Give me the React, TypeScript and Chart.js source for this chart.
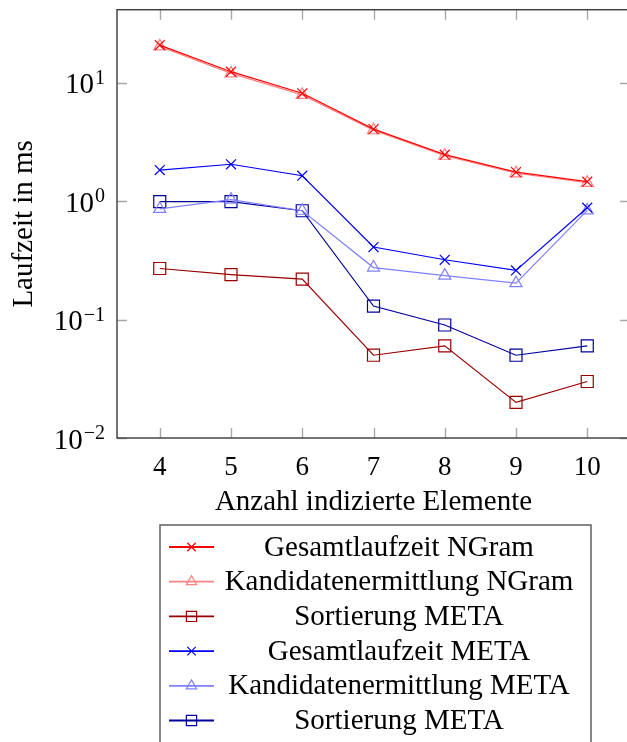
import React, { useEffect, useRef } from 'react';
import { Chart, registerables } from 'chart.js';
import { drawPoint } from 'chart.js/helpers';

Chart.register(...registerables);

// ---------- data ----------
const categories = [4, 5, 6, 7, 8, 9, 10];
const seriesLabels = [
  'Gesamtlaufzeit NGram',
  'Kandidatenermittlung NGram',
  'Sortierung META',
  'Gesamtlaufzeit META',
  'Kandidatenermittlung META',
  'Sortierung META',
];
const gesamtNGram = [20.8, 12.4, 8.15, 4.06, 2.47, 1.76, 1.46];
const kandNGram = [20.3, 12.0, 7.9, 3.97, 2.42, 1.72, 1.43];
const sortNGram = [0.27, 0.24, 0.22, 0.05, 0.06, 0.02, 0.03];
const gesamtMeta = [1.83, 2.05, 1.64, 0.41, 0.32, 0.26, 0.88];
const kandMeta = [0.86, 1.03, 0.83, 0.275, 0.235, 0.203, 0.835];
const sortMeta = [0.99, 0.99, 0.83, 0.13, 0.09, 0.05, 0.06];
const yTickValues = [0.01, 0.1, 1, 10];
const yTickExponents = ['\u22122', '\u22121', '0', '1'];
const xTitle = 'Anzahl indizierte Elemente';
const yTitle = 'Laufzeit in ms';

const FONT = '"Liberation Serif", "DejaVu Serif", serif';

const mk = (label: string, data: number[], color: string, style: string, radius: number) => ({
  label,
  data: categories.map((c, i) => ({ x: c, y: data[i] })),
  borderColor: color,
  backgroundColor: 'rgba(0,0,0,0)',
  pointStyle: style,
  pointRadius: radius,
  pointBorderColor: color,
  pointBackgroundColor: 'rgba(0,0,0,0)',
  pointBorderWidth: 1.2,
  borderWidth: 1.2,
  fill: false,
  tension: 0,
});

const decorPlugin = {
  id: 'decor',
  afterDraw(chart: any) {
    const { ctx, chartArea: a, scales } = chart;
    const xs = scales.x;
    const ys = scales.y;
    ctx.save();
    // inward tick marks
    ctx.strokeStyle = '#a8a8a8';
    ctx.lineWidth = 1.4;
    const tl = 10;
    categories.forEach((c) => {
      const px = Math.round(xs.getPixelForValue(c)) + 0.5;
      ctx.beginPath();
      ctx.moveTo(px, a.bottom);
      ctx.lineTo(px, a.bottom - tl);
      ctx.moveTo(px, a.top);
      ctx.lineTo(px, a.top + tl);
      ctx.stroke();
    });
    yTickValues.forEach((v) => {
      const py = Math.round(ys.getPixelForValue(v)) + 0.5;
      ctx.beginPath();
      ctx.moveTo(a.left, py);
      ctx.lineTo(a.left + tl, py);
      ctx.moveTo(a.right, py);
      ctx.lineTo(a.right - tl, py);
      ctx.stroke();
    });
    // frame
    ctx.strokeStyle = '#3a3a3a';
    ctx.lineWidth = 1.4;
    ctx.strokeRect(a.left, a.top, a.right - a.left, a.bottom - a.top);
    // y tick labels 10^n
    ctx.fillStyle = '#000';
    ctx.textBaseline = 'middle';
    ctx.textAlign = 'left';
    yTickValues.forEach((v, i) => {
      const py = ys.getPixelForValue(v);
      ctx.font = `20px ${FONT}`;
      const ew = ctx.measureText(yTickExponents[i]).width;
      ctx.font = `29px ${FONT}`;
      const bw = ctx.measureText('10').width;
      const right = 105;
      ctx.fillText('10', right - ew - bw - 1, py + 3);
      ctx.font = `20px ${FONT}`;
      ctx.fillText(yTickExponents[i], right - ew, py - 4);
    });
    // legend
    const L = { left: 160, top: 525, right: 591, bottom: 760 };
    ctx.strokeStyle = '#555';
    ctx.lineWidth = 1.4;
    ctx.strokeRect(L.left, L.top, L.right - L.left, L.bottom - L.top);
    const rowH = 34.7;
    const firstY = 547;
    chart.data.datasets.forEach((ds: any, i: number) => {
      const y = firstY + i * rowH;
      ctx.strokeStyle = ds.borderColor;
      ctx.lineWidth = 1.8;
      ctx.beginPath();
      ctx.moveTo(169, y);
      ctx.lineTo(214, y);
      ctx.stroke();
      ctx.lineWidth = 1.2;
      ctx.fillStyle = 'rgba(0,0,0,0)';
      drawPoint(
        ctx,
        { pointStyle: ds.pointStyle, rotation: 0, borderWidth: 1.2, radius: ds.pointRadius * 0.85 } as any,
        191.5,
        y,
      );
      ctx.fillStyle = '#000';
      ctx.font = `29px ${FONT}`;
      ctx.textAlign = 'center';
      ctx.textBaseline = 'middle';
      ctx.fillText(ds.label, 399, y + 1);
    });
    ctx.restore();
  },
};

export default function App() {
  const ref = useRef<HTMLCanvasElement>(null);
  useEffect(() => {
    if (!ref.current) return;
    const chart = new Chart(ref.current, {
      type: 'line',
      data: {
        datasets: [
          mk(seriesLabels[0], gesamtNGram, '#ff0000', 'crossRot', 7),
          mk(seriesLabels[1], kandNGram, '#ff8080', 'triangle', 7),
          mk(seriesLabels[2], sortNGram, '#990000', 'rect', 8.5),
          mk(seriesLabels[3], gesamtMeta, '#0000ff', 'crossRot', 7),
          mk(seriesLabels[4], kandMeta, '#8080ff', 'triangle', 7),
          mk(seriesLabels[5], sortMeta, '#000099', 'rect', 8.5),
        ] as any,
      },
      options: {
        animation: false,
        responsive: false,
        layout: { padding: { left: 0, top: 7, right: 10, bottom: 0 } },
        plugins: { legend: { display: false }, tooltip: { enabled: false } },
        scales: {
          x: {
            type: 'linear',
            min: 3.4,
            max: 10.6,
            afterBuildTicks: (s: any) => {
              s.ticks = categories.map((v) => ({ value: v }));
            },
            afterFit: (s: any) => {
              s.height = 304;
            },
            grid: { display: false },
            border: { display: false },
            ticks: {
              font: { family: FONT, size: 27 },
              color: '#000',
              padding: 6,
              maxRotation: 0,
              autoSkip: false,
              callback: (v: any) => String(v),
            },
            title: {
              display: true,
              text: xTitle,
              color: '#000',
              font: { family: FONT, size: 29 },
              padding: { top: 0, bottom: 222.6 },
            },
          },
          y: {
            type: 'logarithmic',
            min: 0.01,
            max: 41.4,
            afterFit: (s: any) => {
              s.width = 117;
            },
            grid: { display: false },
            border: { display: false },
            ticks: { display: false },
            title: {
              display: true,
              text: yTitle,
              color: '#000',
              font: { family: FONT, size: 29 },
              padding: { top: 6.6, bottom: 0 },
            },
          },
        },
      } as any,
      plugins: [decorPlugin],
    });
    return () => chart.destroy();
  }, []);
  return (
    <div style={{ position: 'absolute', left: 0, top: 0, width: 627, height: 742, overflow: 'hidden', background: '#fff' }}>
      <canvas ref={ref} width={640} height={742} style={{ width: 640, height: 742, display: 'block' }} />
    </div>
  );
}
